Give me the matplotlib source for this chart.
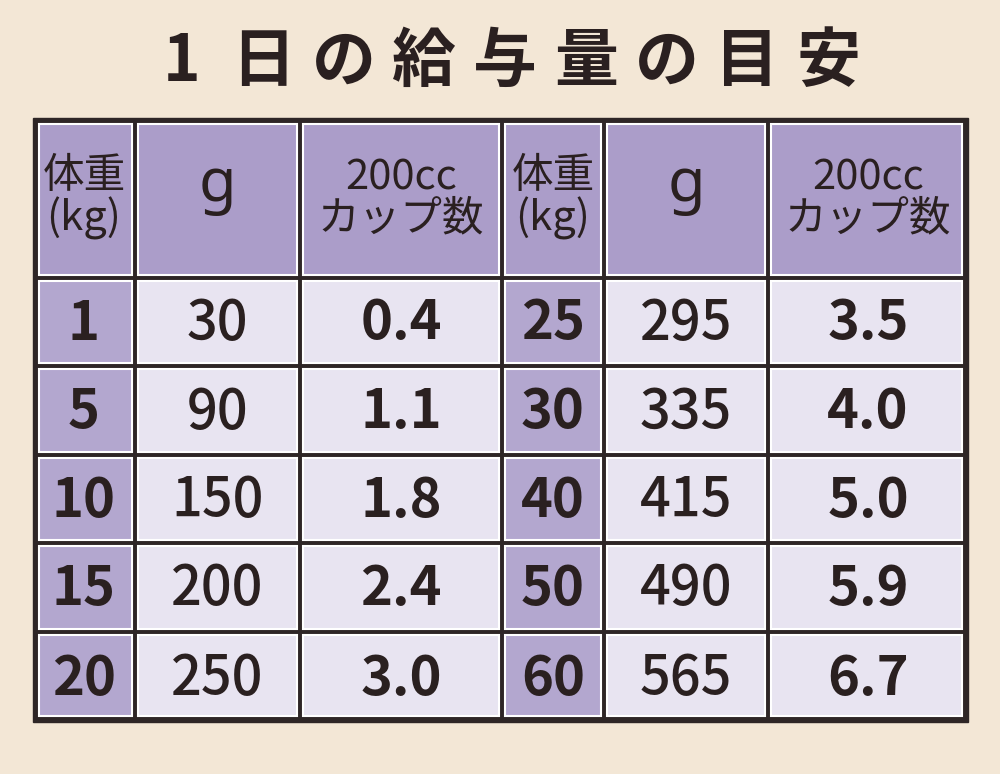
import matplotlib
matplotlib.use("Agg")
import matplotlib.pyplot as plt
from matplotlib.patches import Rectangle

plt.rcParams['font.family'] = ['Noto Sans CJK JP', 'DejaVu Sans']

title = "1日の給与量の目安"
headers = ["体重\n(kg)", "g", "200cc\nカップ数"]
weights_left = [1, 5, 10, 15, 20]
grams_left = [30, 90, 150, 200, 250]
cups_left = ["0.4", "1.1", "1.8", "2.4", "3.0"]
weights_right = [25, 30, 40, 50, 60]
grams_right = [295, 335, 415, 490, 565]
cups_right = ["3.5", "4.0", "5.0", "5.9", "6.7"]

fig = plt.figure(figsize=(10, 7.74), dpi=100)
fig.patch.set_facecolor("#f3e7d6")
ax = fig.add_axes([0, 0, 1, 1])
ax.set_xlim(0, 1000); ax.set_ylim(774, 0); ax.axis("off")

# title with wide letter spacing
n = len(title)
x_start, x_end = 182, 828
for i, ch in enumerate(title):
    x = x_start + i * (x_end - x_start) / (n - 1)
    ax.text(x, 62, ch, ha="center", va="center", fontsize=46, fontweight="bold", color="#2a2020")

cols = [33, 135, 300, 502, 604, 768, 968]
rows = [118, 278, 366, 455, 543, 632, 722]
dark = "#2e2626"
ax.add_patch(Rectangle((cols[0], rows[0]), cols[-1]-cols[0], rows[-1]-rows[0], color=dark))
g = 3
head_c = "#ab9dc9"; wcol = "#b3a7cf"; body = "#e8e4f1"
left = list(zip(weights_left, grams_left, cups_left))
right = list(zip(weights_right, grams_right, cups_right))
for ci in range(6):
    x0, x1 = cols[ci], cols[ci+1]
    for ri in range(6):
        y0, y1 = rows[ri], rows[ri+1]
        if ri == 0:
            fc = head_c
        elif ci % 3 == 0:
            fc = wcol
        else:
            fc = body
        pad_l = 6 if ci == 0 else g
        pad_r = 6 if ci == 5 else g
        pad_t = 6 if ri == 0 else g
        pad_b = 6 if ri == 5 else g
        ax.add_patch(Rectangle((x0+pad_l, y0+pad_t), x1-x0-pad_l-pad_r, y1-y0-pad_t-pad_b,
                               facecolor=fc, edgecolor="white", lw=1.5))
        cx, cy = (x0+x1)/2, (y0+y1)/2
        if ri == 0:
            h = headers[ci % 3]
            if h == "g":
                ax.text(cx, cy-12, h, ha="center", va="center", fontsize=44,
                        family=["Noto Sans", "DejaVu Sans"], color="#2a2020")
            else:
                ax.text(cx, cy, h, ha="center", va="center", fontsize=30,
                        color="#2a2020", linespacing=1.0)
        else:
            rec = (left if ci < 3 else right)[ri-1]
            ax.text(cx, cy+2, str(rec[ci % 3]), ha="center", va="center", fontsize=39,
                    fontweight="bold" if ci % 3 != 1 else "medium", color="#2a2020")

fig.savefig("out.png", dpi=100, facecolor=fig.get_facecolor())
